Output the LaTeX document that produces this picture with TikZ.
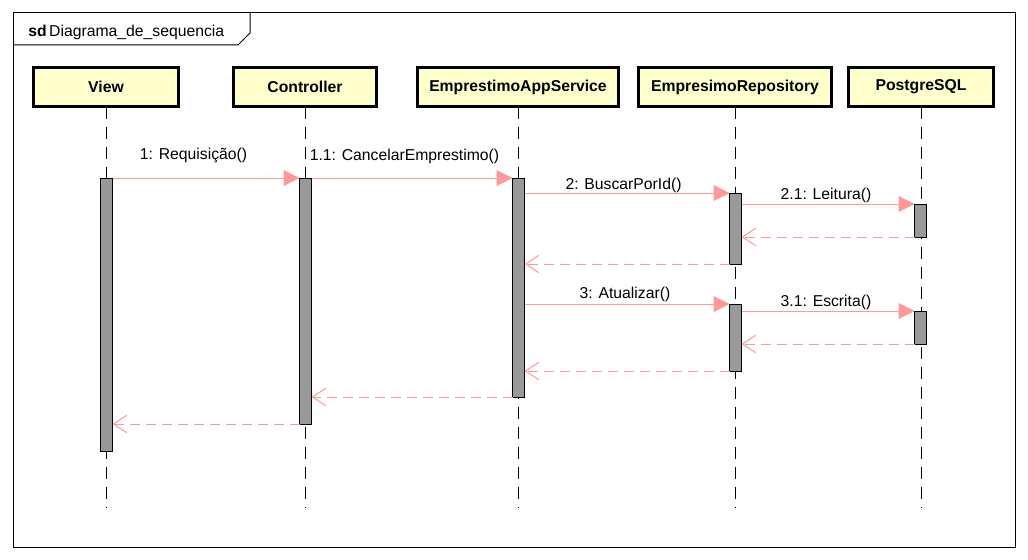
\documentclass[tikz,border=0pt]{standalone}
\usepackage{fontspec}
\setmainfont{Liberation Sans}
\usetikzlibrary{arrows.meta, positioning}
\definecolor{actor_fill}{RGB}{255,255,204}
\definecolor{msg_pink}{RGB}{255,153,153}
\definecolor{bar_gray}{RGB}{153,153,153}
\tikzset{
  label_font/.style = {font=\fontsize{11.8}{14}\selectfont},
  actor_font/.style = {font=\fontsize{11.8}{14}\selectfont\bfseries}
}
\tikzset{
  actor/.style = {actor_font, draw, line width=2.25pt, fill=actor_fill, minimum height=29.25pt, inner sep=0, outer sep=0},
  bar/.style = {draw, line width=0.75pt, fill=bar_gray, minimum width=9pt, inner sep=0, outer sep=0, anchor=north},
  lifeline/.style = {line width=0.75pt, dash pattern=on 9pt off 6pt},
  call/.style = {draw=msg_pink, line width=0.75pt, -{Triangle[length=12pt, width=12pt, fill=msg_pink]}},
  reply/.style = {draw=msg_pink, line width=0.75pt, dash pattern=on 7.5pt off 4.5pt, -{Straight Barb[length=10pt, width=13pt]}},
  msg/.style = {label_font, anchor=base}
}
\begin{document}
\begin{tikzpicture}[x=0.75pt, y=-0.75pt]
        \path[use as bounding box, fill=white] (0,0) rectangle (1028,560);

        % Frame
        \draw[line width=0.75pt] (13,13) rectangle (1015,547);
        \draw[line width=0.75pt] (13,45) -- (238,45) -- (250,33) -- (250,13);
        \node[label_font, anchor=base west, inner sep=0] at (28,37) (sd_title) {
            \textbf{sd}\,Diagrama\_de\_sequencia};

        % Actors
        \node[actor, minimum width=108.75pt] at (106,87) (v) {View};
        \node[actor, minimum width=107.25pt] at (305,87) (c) {Controller};
        \node[actor, minimum width=150.75pt] at (518,87) (s) {EmprestimoAppService};
        \node[actor, minimum width=144.75pt] at (735,87) (r) {EmpresimoRepository};
        \node[actor, minimum width=108.75pt] at (921,87) (p) {PostgreSQL};

        % Lifelines
        \coordinate (bottom) at (0,507);
        \foreach \n in {v, c, s, r, p}
            \draw[lifeline] (\n.south) -- (\n.south |- bottom);

        % Activations
        \node[bar, minimum height=204.75pt] at (106.5,178) (v_bar) {};
        \node[bar, minimum height=184.5pt] at (305.5,178) (c_bar) {};
        \node[bar, minimum height=164.25pt] at (518.5,178) (s_bar) {};
        \node[bar, minimum height=53.25pt] at (735.5,193) (r_bar_1) {};
        \node[bar, minimum height=24.75pt] at (920.5,204) (p_bar_1) {};
        \node[bar, minimum height=50.25pt] at (735.5,304) (r_bar_2) {};
        \node[bar, minimum height=24.75pt] at (920.5,311) (p_bar_2) {};

        % Calls
        \draw[call] (v_bar.north east) -- (c_bar.north west);
        \draw[call] (c_bar.north east) -- (s_bar.north west);
        \draw[call] (r_bar_1.north west -| s_bar.east) -- (r_bar_1.north west);
        \draw[call] (p_bar_1.north west -| r_bar_1.east) -- (p_bar_1.north west);
        \draw[call] (r_bar_2.north west -| s_bar.east) -- (r_bar_2.north west);
        \draw[call] (p_bar_2.north west -| r_bar_2.east) -- (p_bar_2.north west);

        % Replies
        \draw[reply] (p_bar_1.south west) -- (p_bar_1.south west -| r_bar_1.east);
        \draw[reply] (r_bar_1.south west) -- (r_bar_1.south west -| s_bar.east);
        \draw[reply] (p_bar_2.south west) -- (p_bar_2.south west -| r_bar_2.east);
        \draw[reply] (r_bar_2.south west) -- (r_bar_2.south west -| s_bar.east);
        \draw[reply] (s_bar.south west) -- (s_bar.south west -| c_bar.east);
        \draw[reply] (c_bar.south west) -- (c_bar.south west -| v_bar.east);

        % Message labels
        \node[msg] at (193.5,159) (m_1) {1: Requisição()};
        \node[msg] at (404.5,160) (m_1_1) {1.1: CancelarEmprestimo()};
        \node[msg] at (623.5,189) (m_2) {2: BuscarPorId()};
        \node[msg] at (826,199) (m_2_1) {2.1: Leitura()};
        \node[msg] at (625,298) (m_3) {3: Atualizar()};
        \node[msg] at (826,306) (m_3_1) {3.1: Escrita()};
\end{tikzpicture}
\end{document}
